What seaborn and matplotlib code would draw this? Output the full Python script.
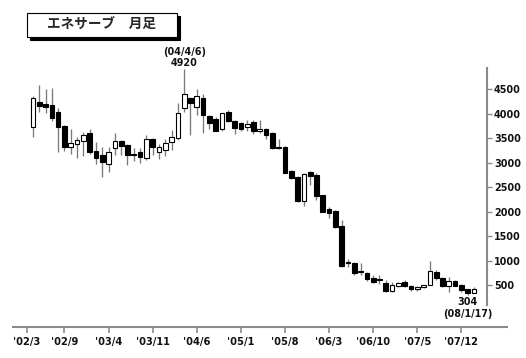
import numpy as np
import pandas as pd
import matplotlib
matplotlib.use("Agg")
import matplotlib.pyplot as plt
import seaborn as sns
from matplotlib.patches import Rectangle

# ---- data (monthly candles, 2002/4 .. 2008/2) ----
months = [str(p) for p in pd.period_range("2002-04", "2008-02", freq="M")]
open_ = [3740, 4250, 4200, 4180, 4040, 3760, 3320, 3380, 3440, 3610,
         3240, 3160, 2970, 3310, 3450, 3360, 3180, 3230, 3090, 3490,
         3210, 3260, 3430, 3510, 4110, 4320, 4150, 4320, 3960, 3890,
         3680, 4030, 3850, 3810, 3730, 3830, 3640, 3680, 3600, 3310,
         3330, 2830, 2710, 2220, 2810, 2740, 2340, 2050, 2020, 1710,
         970, 940, 780, 750, 640, 610, 550, 370, 480, 570,
         480, 410, 450, 510, 760, 640, 470, 590, 500, 410, 340]
high = [4360, 4600, 4500, 4520, 4110, 3780, 3700, 3530, 3620, 3700,
        3430, 3330, 3330, 3600, 3470, 3390, 3300, 3300, 3570, 3510,
        3380, 3490, 3660, 4220, 4920, 4350, 4500, 4410, 3970, 3930,
        4010, 4070, 3880, 3840, 3870, 3870, 3870, 3710, 3620, 3480,
        3340, 2860, 2720, 2800, 2840, 2790, 2350, 2090, 2030, 1830,
        1030, 980, 940, 770, 700, 700, 600, 570, 560, 600,
        500, 480, 500, 1000, 810, 660, 670, 600, 520, 420, 450]
low = [3530, 4040, 4010, 3850, 3210, 3240, 3170, 3100, 3140, 3170,
       2970, 2710, 2820, 3160, 3160, 2950, 3040, 3000, 3060, 3160,
       3080, 3140, 3260, 3470, 4040, 3570, 3980, 3600, 3700, 3650,
       3650, 3830, 3590, 3650, 3650, 3590, 3600, 3480, 3290, 3280,
       2790, 2660, 2200, 2120, 2540, 2240, 1990, 1870, 1660, 860,
       870, 700, 700, 590, 550, 520, 360, 350, 450, 450,
       380, 380, 440, 500, 600, 460, 360, 470, 360, 304, 330]
close = [4330, 4170, 4150, 3910, 3740, 3330, 3410, 3470, 3570, 3210,
         3100, 3010, 3230, 3450, 3340, 3160, 3150, 3120, 3490, 3330,
         3320, 3410, 3520, 4020, 4410, 4220, 4360, 3980, 3820, 3650,
         4010, 3860, 3720, 3700, 3800, 3640, 3690, 3570, 3300, 3300,
         2800, 2690, 2210, 2770, 2720, 2330, 2000, 1980, 1690, 890,
         950, 740, 770, 620, 570, 600, 370, 500, 550, 470,
         410, 450, 490, 790, 640, 470, 580, 480, 400, 330, 410]

tick_months = ["2002-03", "2002-09", "2003-04", "2003-11", "2004-06", "2005-01",
               "2005-08", "2006-03", "2006-10", "2007-05", "2007-12"]
tick_labels = ["'02/3", "'02/9", "'03/4", "'03/11", "'04/6", "'05/1",
               "'05/8", "'06/3", "'06/10", "'07/5", "'07/12"]
y_ticks = [500, 1000, 1500, 2000, 2500, 3000, 3500, 4000, 4500]

title = "エネサーブ　月足"
peak_date = "(04/4/6)"
low_date = "(08/1/17)"
low_value = 304

# ---- build frame ----
df = pd.DataFrame({"month": months, "open": open_, "high": high,
                   "low": low, "close": close})
df["pos"] = np.arange(len(df))
df["up"] = df["close"] >= df["open"]
df["body_lo"] = df[["open", "close"]].min(axis=1)
df["body_h"] = (df["close"] - df["open"]).abs().clip(lower=25)

start = pd.Period(months[0], freq="M")
tick_pos = [(pd.Period(m, freq="M") - start).n for m in tick_months]

sns.set_theme(style="white")
plt.rcParams["font.family"] = ["DejaVu Sans"]

GRAY = "#8a8a8a"
TXT = dict(fontsize=6.9, fontweight="bold", color="#111111")
fig = plt.figure(figsize=(5.26, 3.58), dpi=100)
ax = fig.add_axes([0.0241, 0.0874, 0.9392, 0.7227])

# wicks then bodies
ax.vlines(df["pos"], df["low"], df["high"], color="#7a7a7a", lw=0.95, zorder=2)
ax.bar(df["pos"], df["body_h"], bottom=df["body_lo"], width=0.74,
       color=np.where(df["up"], "white", "black"), edgecolor="black",
       linewidth=0.8, zorder=3)

ax.set_xlim(-3.22, 75.19)
ax.set_ylim(-353, 4938)

for s in ["left", "top"]:
    ax.spines[s].set_visible(False)
ax.spines["bottom"].set_color(GRAY)
ax.spines["bottom"].set_linewidth(1.5)
ax.spines["right"].set_color(GRAY)
ax.spines["right"].set_linewidth(1.5)
ax.spines["right"].set_position(("data", 72.06))
ax.spines["right"].set_bounds(100, 4938)

ax.yaxis.tick_right()
ax.set_yticks(y_ticks)
ax.set_yticklabels([str(v) for v in y_ticks], fontweight="bold")
ax.tick_params(axis="y", which="both", direction="out", length=3.8, width=1.0,
               color=GRAY, labelsize=6.9, pad=1.2, labelcolor="#111111",
               left=False, right=True)
ax.set_xticks(tick_pos)
ax.set_xticklabels(tick_labels, fontweight="bold")
ax.tick_params(axis="x", direction="out", length=4.5, width=1.2, color=GRAY,
               labelsize=7.1, pad=3, labelcolor="#111111", bottom=True)
ax.grid(False)
ax.set_xlabel("")
ax.set_ylabel("")

# peak annotation
ip = int(np.argmax(df["high"]))
ax.text(ip, 5050, f"{df['high'][ip]}", ha="center", va="center",
        clip_on=False, **TXT)
ax.text(ip, 5255, peak_date, ha="center", va="center", clip_on=False, **TXT)

# low annotation
il = int(np.argmin(df["low"]))
ax.text(il, 152, f"{low_value}", ha="center", va="center", **TXT)
ax.text(il, -103, low_date, ha="center", va="center", **TXT)

# title box with shadow
W, H = 526.0, 358.0
bx, by, bw, bh = 26.7, 12.7, 150.0, 24.0
fig.add_artist(Rectangle(((bx + 3.3) / W, 1 - (by + bh + 3.3) / H), bw / W, bh / H,
                         transform=fig.transFigure, facecolor="black",
                         edgecolor="black", lw=0.8, zorder=1))
fig.add_artist(Rectangle((bx / W, 1 - (by + bh) / H), bw / W, bh / H,
                         transform=fig.transFigure, facecolor="white",
                         edgecolor="black", lw=0.8, zorder=2))
fig.text((bx + bw / 2) / W, 1 - (by + bh / 2) / H, title, ha="center", va="center",
         fontsize=9.8, fontweight="bold", family=["Noto Sans CJK JP", "DejaVu Sans"],
         zorder=3)

fig.savefig("out.png", dpi=100)
